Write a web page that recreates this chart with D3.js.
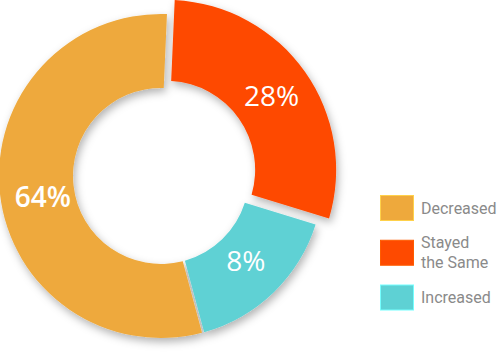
<!DOCTYPE html>
<html>
<head>
<meta charset="utf-8">
<script src="https://cdn.jsdelivr.net/npm/d3@7"></script>
<style>
  html, body { margin: 0; padding: 0; background: #fff; }
  svg { display: block; }
</style>
</head>
<body>
<svg id="chart" width="500" height="361"></svg>
<script>
// ---- data ----
const categories = ["Stayed the Same", "Increased", "Decreased"];
const sliceValues = [29, 16, 55];           // angular share as drawn
const sliceLabels = ["28%", "8%", "64%"];   // printed labels
const colors = ["#FE4A00", "#5ED1D4", "#EEA93C"];
const legendOrder = ["Decreased", "Stayed the Same", "Increased"];
const legendLines = [["Decreased"], ["Stayed", "the Same"], ["Increased"]];
const exploded = ["Stayed the Same"];

// ---- layout ----
const svg = d3.select("#chart");
const cx = 161, cy = 176;
const rInner = 88, rOuter = 162;
const deg = Math.PI / 180;
const labelAngleShift = [0, -1, -3.5]; // degrees, fine placement of labels

const defs = svg.append("defs");
const f = defs.append("filter").attr("id", "shadow")
  .attr("x", "-20%").attr("y", "-20%").attr("width", "140%").attr("height", "140%");
f.append("feDropShadow").attr("dx", 2).attr("dy", 4).attr("stdDeviation", 4.5)
  .attr("flood-color", "#000").attr("flood-opacity", 0.3);

const pie = d3.pie().sort(null).startAngle(2.5 * deg).endAngle(362.5 * deg).padAngle(0.012);
const arcs = pie(sliceValues);

const arcNormal = d3.arc().innerRadius(rInner).outerRadius(rOuter);
const arcBig = d3.arc().innerRadius(rInner + 1).outerRadius(rOuter + 8);

const g = svg.append("g").attr("transform", `translate(${cx},${cy})`);
const slices = g.append("g").attr("filter", "url(#shadow)");

function offsetFor(i) {
  if (!exploded.includes(categories[i])) return [0, 0];
  const a = 40 * deg, d = 8;
  return [Math.sin(a) * d, -Math.cos(a) * d];
}

arcs.forEach((a, i) => {
  const isEx = exploded.includes(categories[i]);
  const [ox, oy] = offsetFor(i);
  slices.append("path")
    .attr("transform", `translate(${ox},${oy})`)
    .attr("d", (isEx ? arcBig : arcNormal)(a))
    .attr("fill", colors[i]);
});

arcs.forEach((a, i) => {
  const isEx = exploded.includes(categories[i]);
  const [ox, oy] = offsetFor(i);
  const r = isEx ? 129 : 120;
  const mid = (a.startAngle + a.endAngle) / 2 + labelAngleShift[i] * deg;
  const x = Math.sin(mid) * r + ox;
  const y = -Math.cos(mid) * r + oy;
  g.append("text")
    .attr("x", x)
    .attr("y", y)
    .attr("dy", "0.37em")
    .attr("text-anchor", "middle")
    .attr("fill", "#fff")
    .attr("font-family", "'Open Sans', sans-serif")
    .attr("font-size", 28)
    .attr("font-weight", i === 2 ? 600 : 400)
    .text(sliceLabels[i]);
});

// ---- legend ----
const legendY = d3.scalePoint().domain(legendOrder).range([208, 297.5]);
const leg = svg.append("g");
legendOrder.forEach((name, j) => {
  const i = categories.indexOf(name);
  const y = legendY(name);
  leg.append("rect")
    .attr("x", 380.5).attr("y", y - 12.5)
    .attr("width", 33).attr("height", 25)
    .attr("fill", colors[i])
    .attr("stroke", d3.color(colors[i]).brighter(0.6))
    .attr("stroke-width", 1);
  const lines = legendLines[j];
  const lh = 20;
  lines.forEach((t, k) => {
    leg.append("text")
      .attr("x", 421)
      .attr("y", y + (k - (lines.length - 1) / 2) * lh)
      .attr("dominant-baseline", "central")
      .attr("fill", "#8a8a8a")
      .attr("font-family", "Roboto, sans-serif")
      .attr("font-size", 16)
      .text(t);
  });
});
</script>
</body>
</html>
